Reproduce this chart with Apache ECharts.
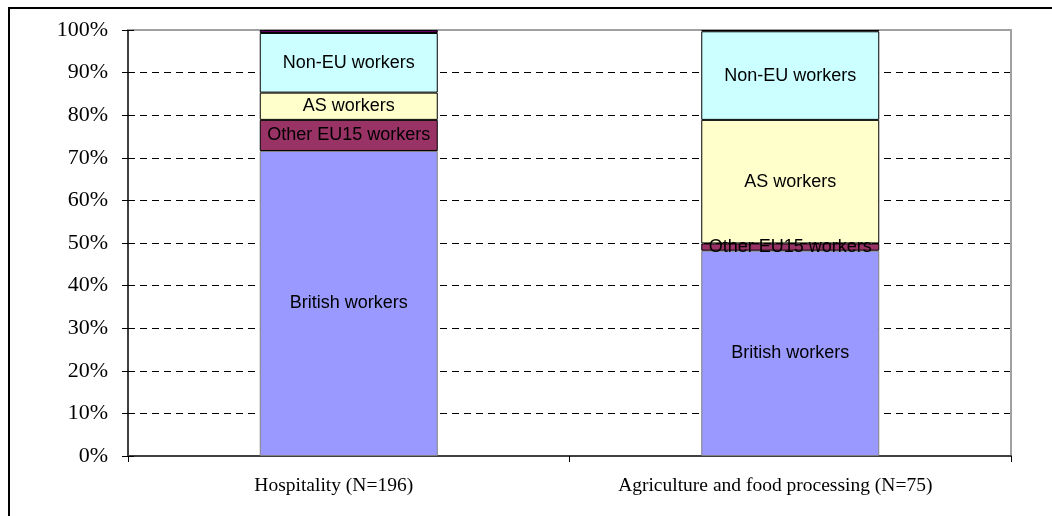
<!DOCTYPE html>
<html>
<head>
<meta charset="utf-8">
<script src="https://cdn.jsdelivr.net/npm/echarts@6/dist/echarts.min.js"></script>
<style>
  html, body { margin: 0; padding: 0; background: #fff; }
  #main { width: 1052px; height: 516px; }
</style>
</head>
<body>
<div id="main"></div>
<script>
// categories and shares (%)
var categories = ['Hospitality (N=196)', 'Agriculture and food processing (N=75)'];
var britishWorkers = [71.6, 48.2];
var otherEU15Workers = [7.3, 1.7];
var asWorkers = [6.4, 29.0];
var nonEUWorkers = [14.0, 20.8];
var otherWorkers = [0.7, 0.3];
var yTicks = [0, 10, 20, 30, 40, 50, 60, 70, 80, 90, 100];

var chart = echarts.init(document.getElementById('main'));

var labelStyle = {
  show: true,
  position: 'inside',
  color: '#000',
  fontFamily: 'Liberation Sans, Arial, sans-serif',
  fontSize: 18
};

function seg(name, data, color, border, withLabel) {
  return {
    name: name,
    type: 'bar',
    stack: 'total',
    barWidth: 178,
    data: data,
    itemStyle: { color: color, borderColor: border, borderWidth: 1 },
    label: withLabel ? Object.assign({ formatter: name }, labelStyle) : { show: false },
    emphasis: { disabled: true }
  };
}

// dashed lines only between 0% and 100%
var gridColors = yTicks.map(function (t, i) {
  return (i === 0 || i === yTicks.length - 1) ? 'rgba(0,0,0,0)' : '#000';
});

var option = {
  animation: false,
  grid: { left: 128, right: 41, top: 30, bottom: 60 },
  xAxis: [
    {
      type: 'category',
      data: categories,
      axisLine: { show: true, lineStyle: { color: '#404040', width: 2 } },
      axisTick: { show: true, length: 6, lineStyle: { color: '#000' } },
      axisLabel: {
        color: '#000',
        fontFamily: 'Liberation Serif, Times New Roman, serif',
        fontSize: 19.5,
        margin: 20,
        padding: [0, 30, 0, 0]
      }
    },
    {
      type: 'category',
      position: 'top',
      data: categories,
      axisLine: { show: true, onZero: false, lineStyle: { color: '#a0a0a0', width: 2 } },
      axisTick: { show: false },
      axisLabel: { show: false }
    }
  ],
  yAxis: [
    {
      type: 'value',
      min: yTicks[0],
      max: yTicks[yTicks.length - 1],
      interval: 10,
      axisLine: { show: true, lineStyle: { color: '#404040', width: 2 } },
      axisTick: { show: true, length: 6, lineStyle: { color: '#000' } },
      axisLabel: {
        formatter: '{value}%',
        color: '#000',
        fontFamily: 'Liberation Serif, Times New Roman, serif',
        fontSize: 22,
        margin: 20
      },
      splitLine: { lineStyle: { color: gridColors, type: [7, 5], width: 1 } }
    },
    {
      type: 'value',
      position: 'left',
      offset: 0,
      min: yTicks[0],
      max: yTicks[yTicks.length - 1],
      interval: 10,
      axisLine: { show: true, onZero: false, lineStyle: { color: 'rgba(0,0,0,0)' } },
      axisTick: { show: true, inside: true, length: 6, lineStyle: { color: '#000' } },
      axisLabel: { show: false },
      splitLine: { show: false }
    },
    {
      type: 'value',
      position: 'right',
      min: 0,
      max: 100,
      axisLine: { show: true, onZero: false, lineStyle: { color: '#a0a0a0', width: 2 } },
      axisTick: { show: false },
      axisLabel: { show: false },
      splitLine: { show: false }
    }
  ],
  series: [
    seg('British workers', britishWorkers, '#9999ff', '#808080', true),
    seg('Other EU15 workers', otherEU15Workers, '#993366', '#000', true),
    seg('AS workers', asWorkers, '#ffffcc', '#000', true),
    seg('Non-EU workers', nonEUWorkers, '#ccffff', '#000', true),
    seg('Other workers', otherWorkers, '#660066', '#000', false)
  ],
  graphic: [
    { type: 'line', shape: { x1: 8, y1: 8, x2: 1052, y2: 8 }, style: { stroke: '#000', lineWidth: 2 } },
    { type: 'line', shape: { x1: 9, y1: 8, x2: 9, y2: 516 }, style: { stroke: '#000', lineWidth: 2 } }
  ]
};

chart.setOption(option);
</script>
</body>
</html>
